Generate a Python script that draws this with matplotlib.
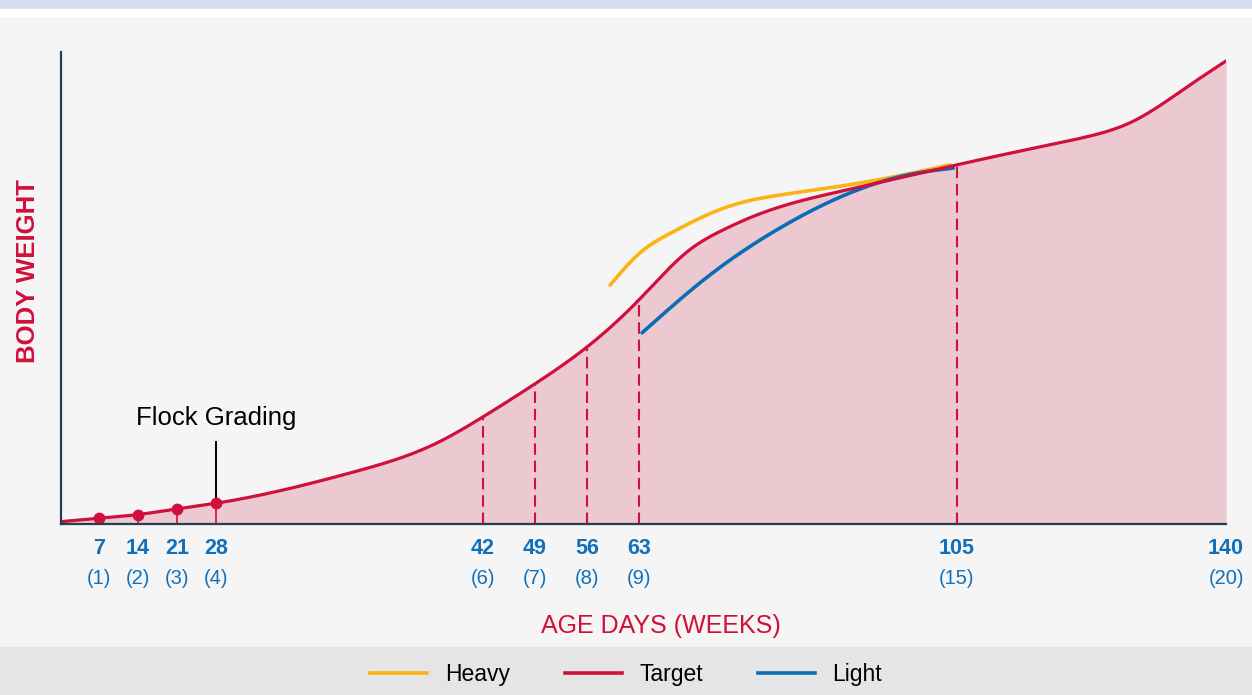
import numpy as np
import matplotlib
matplotlib.use("Agg")
import matplotlib.pyplot as plt
from matplotlib.lines import Line2D
from matplotlib.patches import Rectangle
from matplotlib.transforms import blended_transform_factory

plt.rcParams['font.family'] = ['Liberation Sans', 'DejaVu Sans']

# ---------------- data ----------------
tick_days = [7, 14, 21, 28, 42, 49, 56, 63, 105, 140]
tick_weeks = [1, 2, 3, 4, 6, 7, 8, 9, 15, 20]

target_days = [0, 7, 14, 21, 28, 35.2, 39.6, 42, 49, 56, 63, 69.7, 74.1, 78.6, 90.5,
               105, 115.8, 122.3, 127.5, 135.3, 140]
target_weight = [0.5, 1.2, 2.0, 3.2, 4.4, 11.0, 17.2, 22.7, 29.7, 37.5, 47.5, 58.1, 62.3,
                 65.5, 70.8, 76.1, 79.9, 82.2, 85.0, 93.0, 98.1]

heavy_days = [59.1, 63.1, 67.5, 72.0, 76.3, 81.6, 90.5, 99.2, 104.1]
heavy_weight = [50.6, 57.4, 61.9, 65.5, 68.0, 69.7, 71.8, 74.4, 76.1]

light_days = [63.4, 72.0, 81.6, 90.5, 99.2, 104.5]
light_weight = [40.5, 52.3, 62.7, 69.9, 74.2, 75.4]

grading_days = [7, 14, 21, 28]
check_days = [42, 49, 56, 63, 105]
flock_grading_day = 28

# ---------------- styles ----------------
RED = '#d0103a'
ORANGE = '#fbb316'
BLUE = '#0b6db5'
TICKBLUE = '#1170b9'
FILL = '#ecc9d1'
AXIS = '#22404f'
BG = '#f5f5f5'

# schematic (non-linear) age axis: anchor days -> horizontal position
anchor_days = np.array([0, 7, 14, 21, 28, 42, 49, 56, 63, 105, 140], dtype=float)
anchor_pos = np.array([0, 38, 77, 116, 155, 422, 474, 526, 578, 896, 1165], dtype=float)


def fwd(d):
    return np.interp(d, anchor_days, anchor_pos)


def inv(p):
    return np.interp(p, anchor_pos, anchor_days)


def natural_spline(x, y, xs):
    x = np.asarray(x, float)
    y = np.asarray(y, float)
    n = len(x)
    h = np.diff(x)
    A = np.zeros((n, n))
    b = np.zeros(n)
    A[0, 0] = 1
    A[-1, -1] = 1
    for i in range(1, n - 1):
        A[i, i - 1] = h[i - 1]
        A[i, i] = 2 * (h[i - 1] + h[i])
        A[i, i + 1] = h[i]
        b[i] = 6 * ((y[i + 1] - y[i]) / h[i] - (y[i] - y[i - 1]) / h[i - 1])
    M = np.linalg.solve(A, b)
    idx = np.clip(np.searchsorted(x, xs) - 1, 0, n - 2)
    x0, x1 = x[idx], x[idx + 1]
    hh = h[idx]
    return (M[idx] * (x1 - xs) ** 3 / (6 * hh) + M[idx + 1] * (xs - x0) ** 3 / (6 * hh)
            + (y[idx] / hh - M[idx] * hh / 6) * (x1 - xs)
            + (y[idx + 1] / hh - M[idx + 1] * hh / 6) * (xs - x0))


def smooth(days, weights, n=800):
    p = fwd(np.asarray(days, float))
    ps = np.linspace(p[0], p[-1], n)
    return inv(ps), natural_spline(p, weights, ps)


W, H = 1252, 695
fig = plt.figure(figsize=(W / 100, H / 100), dpi=100, facecolor=BG)

# header / footer bands
fig.patches.append(Rectangle((0, 1 - 9 / H), 1, 9 / H, transform=fig.transFigure,
                             color='#d3dff1', zorder=0))
fig.patches.append(Rectangle((0, 1 - 16 / H), 1, 7 / H, transform=fig.transFigure,
                             color='white', zorder=0))
fig.patches.append(Rectangle((0, 0), 1, 48 / H, transform=fig.transFigure,
                             color='#e5e5e5', zorder=0))

ax = fig.add_axes([61 / W, (H - 524) / H, 1165 / W, 472 / H])
ax.set_facecolor('none')
ax.set_xscale('function', functions=(fwd, inv))
ax.set_xlim(0, 140)
ax.set_ylim(0, 100)

td, tw = smooth(target_days, target_weight)
hd, hw = smooth(heavy_days, heavy_weight)
ld, lw_ = smooth(light_days, light_weight)

ax.fill_between(td, 0, tw, color=FILL, lw=0, zorder=1)

# dashed check lines
for d in check_days:
    ax.plot([d, d], [0, np.interp(d, td, tw)], color=RED, lw=1.5,
            linestyle=(0, (5.5, 2.8)), zorder=2)

# grading stems and dots
for d in grading_days:
    yv = np.interp(d, td, tw)
    ax.plot([d, d], [0, yv], color=RED, lw=1.2, zorder=2)
    ax.plot([d], [yv], 'o', color=RED, ms=7.5, zorder=5)

ax.plot(hd, hw, color=ORANGE, lw=2.6, solid_capstyle='round', zorder=3)
ax.plot(ld, lw_, color=BLUE, lw=2.6, solid_capstyle='round', zorder=3)
ax.plot(td, tw, color=RED, lw=2.3, solid_capstyle='round', zorder=4)

# Flock Grading annotation
fy = np.interp(flock_grading_day, td, tw)
ax.plot([flock_grading_day, flock_grading_day], [fy, 17.4], color='black', lw=1.4, zorder=4)
ax.text(flock_grading_day, 21.0, 'Flock Grading', ha='center', va='baseline',
        fontsize=18.5, color='black')

# spines
for s in ['top', 'right']:
    ax.spines[s].set_visible(False)
for s in ['left', 'bottom']:
    ax.spines[s].set_color(AXIS)
    ax.spines[s].set_linewidth(1.6)
    ax.spines[s].set_zorder(6)
ax.set_yticks([])
ax.set_xticks([])

# tick labels
trans = blended_transform_factory(ax.transData, fig.transFigure)
for d, wk in zip(tick_days, tick_weeks):
    ax.text(d, (H - 549) / H, str(d), transform=trans, ha='center', va='center',
            fontsize=15.5, fontweight='bold', color=TICKBLUE)
    ax.text(d, (H - 578) / H, f'({wk})', transform=trans, ha='center', va='center',
            fontsize=14.5, color=TICKBLUE)

fig.text(661 / W, (H - 626) / H, 'AGE DAYS (WEEKS)', ha='center', va='center',
         fontsize=18, color=RED)
fig.text(28 / W, (H - 271) / H, 'BODY WEIGHT', ha='center', va='center',
         rotation=90, fontsize=18.5, fontweight='bold', color=RED)

handles = [Line2D([], [], color=ORANGE, lw=2.6),
           Line2D([], [], color=RED, lw=2.6),
           Line2D([], [], color=BLUE, lw=2.6)]
fig.legend(handles, ['Heavy', 'Target', 'Light'], loc='center',
           bbox_to_anchor=(0.5, 20 / H), ncol=3, frameon=False, fontsize=16.5,
           handlelength=2.5, handletextpad=0.75, columnspacing=2.4)

fig.savefig('out.png', dpi=100, facecolor=BG)
